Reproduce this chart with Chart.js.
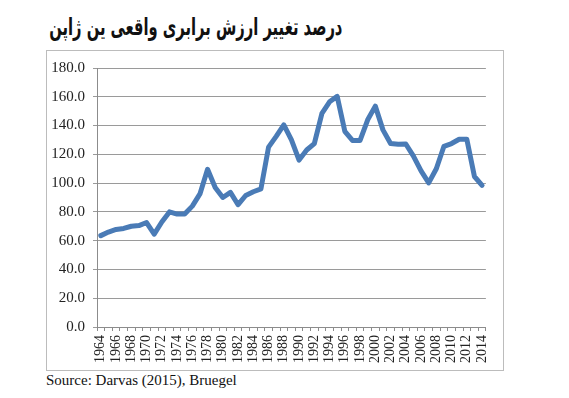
<!DOCTYPE html>
<html>
<head>
<meta charset="utf-8">
<script src="https://cdn.jsdelivr.net/npm/chart.js@4/dist/chart.umd.min.js"></script>
<style>
  body { margin: 0; background: #fff; width: 569px; height: 398px; overflow: hidden; position: relative; }
  #title { position: absolute; right: 227px; top: 13px; direction: rtl; font-family: "DejaVu Sans", sans-serif; font-weight: bold; font-size: 24px; color: #111; white-space: nowrap; transform-origin: right top; }
  #box { position: absolute; left: 46px; top: 50px; width: 456px; height: 319px; border: 1px solid #bcbcbc; }
  #source { position: absolute; left: 46px; top: 372px; font-family: "Liberation Serif", serif; font-size: 15px; color: #111; }
</style>
</head>
<body>
<div id="title">درصد تغییر ارزش برابری واقعی ین ژاپن</div>
<div id="box"><canvas id="myChart" width="456" height="319"></canvas></div>
<div id="source">Source: Darvas (2015), Bruegel</div>
<script>
// squeeze the title to the width it has in the picture
const title = document.getElementById('title');
title.style.transform = 'scaleX(' + (293 / title.offsetWidth) + ')';

// years on the x axis
const years = [];
for (let y = 1964; y <= 2014; y++) years.push(String(y));

// values
const values = [
  63.5, 66, 67.8, 68.5, 70, 70.5, 72.6, 64.5, 73, 80,
  78.5, 78.5, 84, 92.5, 109.6, 97, 90, 93.6, 85, 91.4,
  94, 96, 125, 132.5, 140.5, 130, 116, 123, 127.5, 148.5,
  156.5, 160.3, 136, 129.7, 129.7, 144, 153.5, 137, 127.5, 127,
  127.2, 118.8, 108.5, 100.2, 110, 125.6, 127.5, 130.5, 130.5, 104.6,
  98.5
];

const yTicks = [0, 20, 40, 60, 80, 100, 120, 140, 160, 180];

const data = {
  labels: years,
  datasets: [{
    label: 'Japan',
    data: values,
    borderColor: '#4a7bb6',
    backgroundColor: '#4a7bb6',
    borderWidth: 5,
    pointRadius: 0,
    tension: 0,
    borderJoinStyle: 'round',
    borderCapStyle: 'round'
  }]
};

const config = {
  type: 'line',
  data: data,
  options: {
    responsive: false,
    animation: false,
    layout: { padding: { left: 0, right: 14, top: 13, bottom: 0 } },
    plugins: { legend: { display: false }, tooltip: { enabled: false } },
    scales: {
      x: {
        offset: true,
        afterFit: function(scale){ scale.height = 43; },
        grid: { display: true, drawOnChartArea: false, offset: true, tickLength: 4, color: '#8c8c8c' },
        border: { color: '#8c8c8c' },
        ticks: {
          autoSkip: false,
          maxRotation: 90,
          minRotation: 90,
          padding: 4,
          color: '#222',
          font: { family: 'Liberation Serif', size: 14 },
          callback: function(v, i){ return i % 2 === 0 ? years[i] : ''; }
        }
      },
      y: {
        min: 0,
        max: 180,
        afterFit: function(scale){ scale.width = 50; },
        afterBuildTicks: function(scale){ scale.ticks = yTicks.map(v => ({ value: v })); },
        grid: { color: '#9a9a9a', tickLength: 4 },
        border: { color: '#8c8c8c' },
        ticks: {
          padding: 8,
          color: '#222',
          font: { family: 'Liberation Serif', size: 15 },
          callback: function(v){ return v.toFixed(1); }
        }
      }
    }
  }
};

const myChart = new Chart(document.getElementById('myChart'), config);
</script>
</body>
</html>
